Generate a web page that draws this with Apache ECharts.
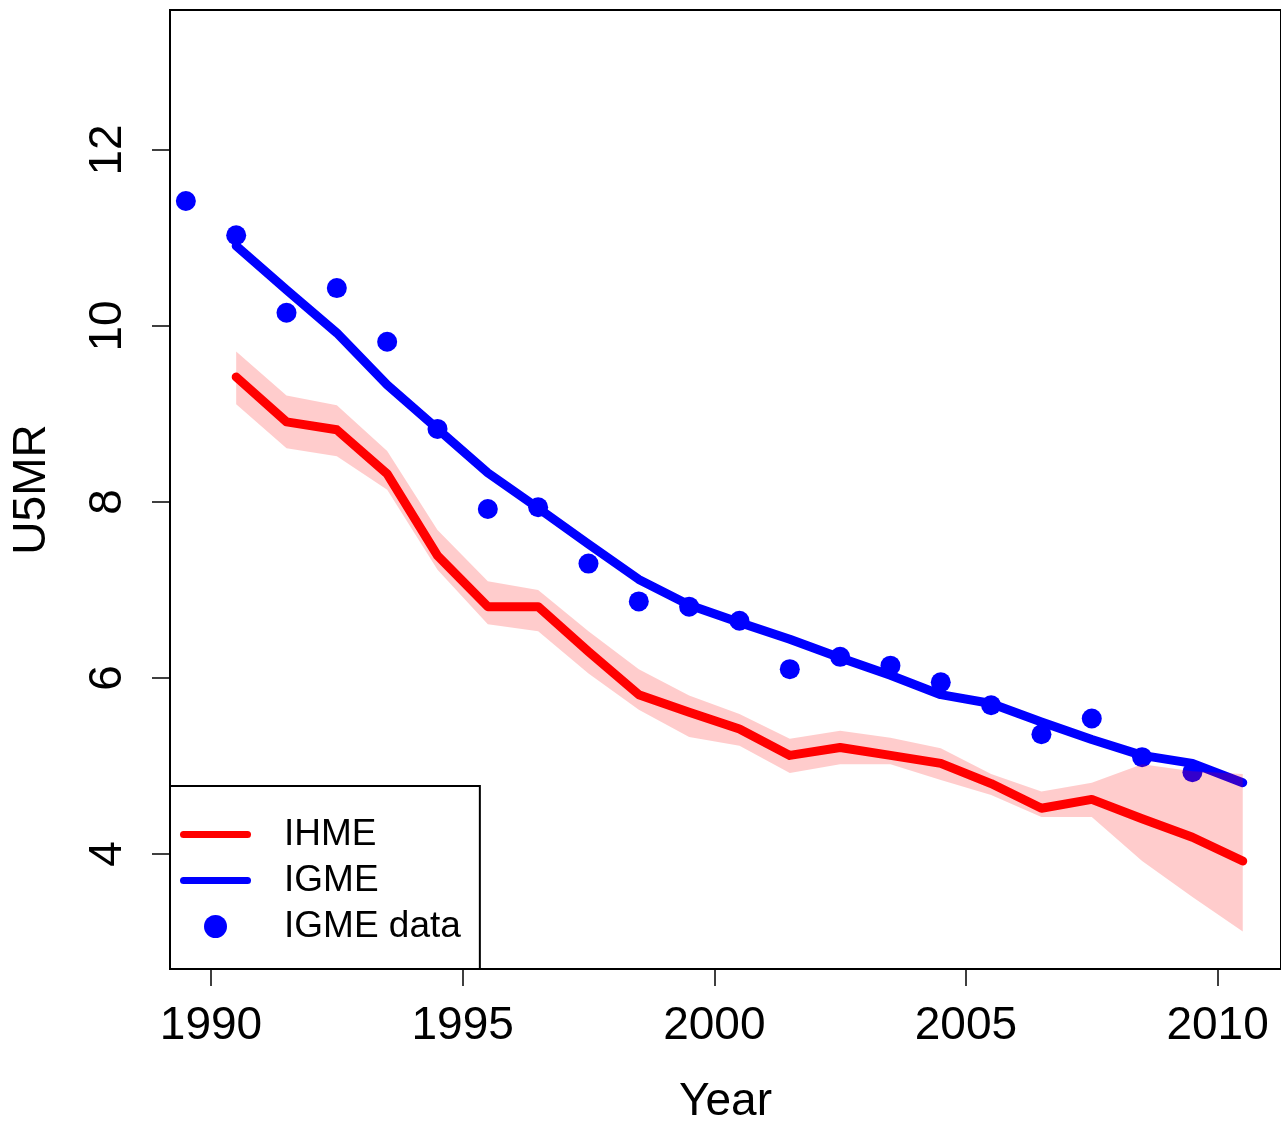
<!DOCTYPE html>
<html>
<head>
<meta charset="utf-8">
<script src="https://cdn.jsdelivr.net/npm/echarts@6/dist/echarts.min.js"></script>
<style>
html,body{margin:0;padding:0;background:#fff;}
#chart{width:1281px;height:1121px;}
</style>
</head>
<body>
<div id="chart"></div>
<script>
// Years of the IGME data points
var dataYears = [1989.5,1990.5,1991.5,1992.5,1993.5,1994.5,1995.5,1996.5,1997.5,1998.5,1999.5,2000.5,2001.5,2002.5,2003.5,2004.5,2005.5,2006.5,2007.5,2008.5,2009.5];
var igmeData = [11.42,11.03,10.15,10.43,9.82,8.83,7.92,7.94,7.30,6.87,6.81,6.65,6.10,6.24,6.14,5.95,5.69,5.36,5.54,5.10,4.93];
// Years of the estimate lines
var lineYears = [1990.5,1991.5,1992.5,1993.5,1994.5,1995.5,1996.5,1997.5,1998.5,1999.5,2000.5,2001.5,2002.5,2003.5,2004.5,2005.5,2006.5,2007.5,2008.5,2009.5,2010.5];
var igmeLine = [10.91,10.41,9.92,9.33,8.83,8.33,7.93,7.52,7.12,6.83,6.63,6.44,6.23,6.03,5.81,5.71,5.50,5.30,5.12,5.03,4.81];
var ihmeLine = [9.42,8.91,8.82,8.32,7.39,6.81,6.81,6.30,5.81,5.61,5.42,5.12,5.21,5.12,5.03,4.80,4.52,4.62,4.40,4.19,3.92];
var ihmeUpper = [9.71,9.21,9.10,8.58,7.68,7.10,7.00,6.53,6.10,5.80,5.59,5.31,5.40,5.32,5.20,4.91,4.71,4.81,5.02,4.94,4.91];
var ihmeLower = [9.11,8.61,8.52,8.14,7.23,6.61,6.53,6.05,5.64,5.33,5.23,4.92,5.02,5.02,4.84,4.67,4.42,4.42,3.92,3.51,3.12];
var xTicks = [1990,1995,2000,2005,2010];
var yTicks = [4,6,8,10,12];

function pairs(xs, ys){ return xs.map(function(x,i){ return [x, ys[i]]; }); }

var FONT = 'Liberation Sans, Arial, Helvetica, sans-serif';
var LINE_ICON = 'path://M3.5,0 L67.5,0 A3.5,3.5 0 0 1 67.5,7 L3.5,7 A3.5,3.5 0 0 1 3.5,0 Z';
var chart = echarts.init(document.getElementById('chart'), null, {renderer:'canvas'});
chart.setOption({
  animation: false,
  backgroundColor: '#fff',
  grid: {left:170, top:10, right:0, bottom:152, show:true, borderColor:'#000', borderWidth:2, containLabel:false, outerBoundsMode:'none'},
  xAxis: {
    type:'value', min:1989.185, max:2011.26,
    axisLine:{show:false},
    splitLine:{show:false},
    axisTick:{show:true, customValues:xTicks, length:17, lineStyle:{color:'#000', width:1.5}},
    axisLabel:{customValues:xTicks, margin:34, fontSize:46, color:'#000', fontFamily:FONT, formatter:function(v){return String(v);}},
    name:'Year', nameLocation:'middle', nameGap:110,
    nameTextStyle:{fontSize:46, color:'#000', fontFamily:FONT}
  },
  yAxis: {
    type:'value', min:2.693, max:13.59,
    axisLine:{show:false},
    splitLine:{show:false},
    axisTick:{show:true, customValues:yTicks, length:18, lineStyle:{color:'#000', width:1.5}},
    axisLabel:{customValues:yTicks, rotate:90, margin:39, fontSize:46, color:'#000', fontFamily:FONT, formatter:function(v){return String(v);}},
    name:'U5MR', nameLocation:'middle', nameGap:115, nameRotate:90,
    nameTextStyle:{fontSize:46, color:'#000', fontFamily:FONT}
  },
  legend: {
    orient:'vertical', left:170, top:786,
    data:[
      {name:'IHME', icon:LINE_ICON},
      {name:'IGME', icon:LINE_ICON},
      {name:'IGME data', icon:'circle'}
    ],
    symbolKeepAspect:true,
    itemWidth:71, itemHeight:23, itemGap:9,
    padding:[30,19,24,10],
    borderColor:'#000', borderWidth:2, backgroundColor:'#fff',
    textStyle:{fontSize:37, color:'#000', fontFamily:FONT, padding:[0,0,0,28]},
    selectedMode:false
  },
  series: [
    {
      name:'IGME', type:'line', data:pairs(lineYears, igmeLine),
      showSymbol:false, symbol:'none', color:'#0000ff',
      itemStyle:{color:'#0000ff'},
      lineStyle:{width:9, color:'#0000ff', cap:'round', join:'round'}, z:2
    },
    {
      name:'IGME data', type:'scatter', data:pairs(dataYears, igmeData),
      symbol:'circle', symbolSize:20, itemStyle:{color:'#0000ff', opacity:1}, z:2
    },
    {
      name:'band', type:'custom', data:[[lineYears[0], ihmeLine[0]]], z:3,
      renderItem:function(params, api){
        var pts = [];
        for (var i=0;i<lineYears.length;i++) pts.push(api.coord([lineYears[i], ihmeUpper[i]]));
        for (var j=lineYears.length-1;j>=0;j--) pts.push(api.coord([lineYears[j], ihmeLower[j]]));
        return {type:'polygon', shape:{points:pts}, style:{fill:'rgba(255,0,0,0.2)', stroke:null}};
      },
      silent:true
    },
    {
      name:'IHME', type:'line', data:pairs(lineYears, ihmeLine),
      showSymbol:false, symbol:'none', color:'#ff0000',
      itemStyle:{color:'#ff0000'},
      lineStyle:{width:9, color:'#ff0000', cap:'round', join:'round'}, z:4
    }
  ]
});
</script>
</body>
</html>
